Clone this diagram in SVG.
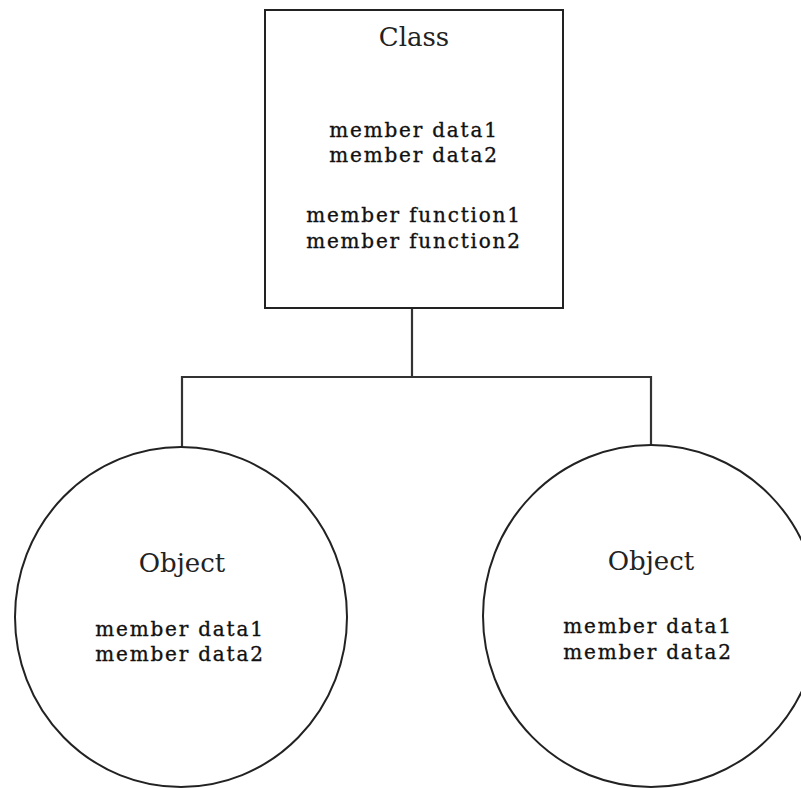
<svg xmlns="http://www.w3.org/2000/svg" width="801" height="788" viewBox="0 0 801 788">
<style>
.shape{fill:#fff;stroke:#222;stroke-width:2}
.conn{fill:none;stroke:#333;stroke-width:2.2}
.title{font-family:"DejaVu Serif",serif;font-size:26px;fill:#222;text-anchor:middle}
.mem{font-family:"DejaVu Serif",serif;font-size:20px;fill:#111;stroke:#111;stroke-width:0.35;text-anchor:middle;letter-spacing:1.8px}
</style>
<rect width="801" height="788" fill="#fff"/>
<g id="connectors">
<path class="conn" d="M412,308 V377 M182,377 H651 M182,376 V447 M651,376 V445"/>
</g>
<g id="class">
<rect class="shape" x="265" y="10" width="298" height="298"/>
<text class="title" x="414" y="46">Class</text>
<text class="mem" x="414" y="137">member data1</text>
<text class="mem" x="414" y="162">member data2</text>
<text class="mem" x="414" y="222">member function1</text>
<text class="mem" x="414" y="248">member function2</text>
</g>
<g id="object1">
<ellipse class="shape" cx="181" cy="617" rx="166" ry="170" stroke-width="1.8"/>
<text class="title" x="182" y="572">Object</text>
<text class="mem" x="180" y="636">member data1</text>
<text class="mem" x="180" y="661">member data2</text>
</g>
<g id="object2">
<ellipse class="shape" cx="651" cy="616" rx="168" ry="171" stroke-width="1.8"/>
<text class="title" x="651" y="570">Object</text>
<text class="mem" x="648" y="633">member data1</text>
<text class="mem" x="648" y="659">member data2</text>
</g>
</svg>
